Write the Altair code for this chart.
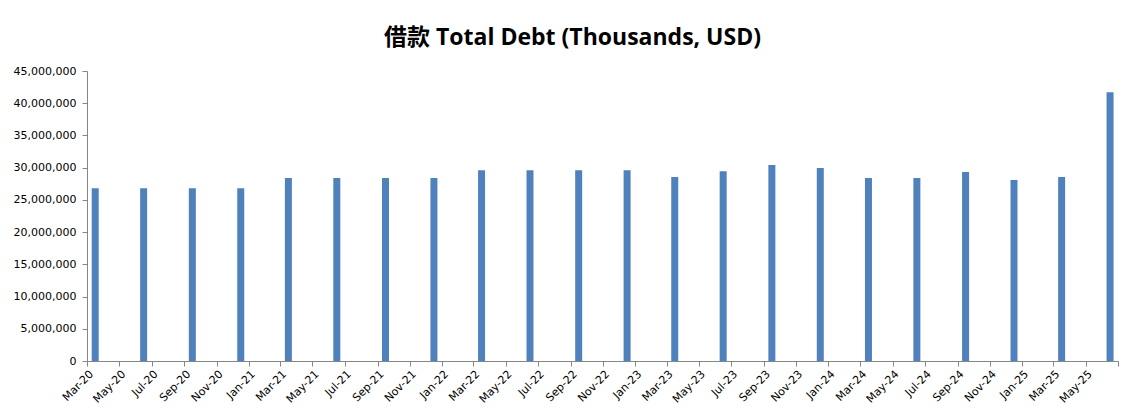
import altair as alt
import pandas as pd

quarters = ["2020-03", "2020-06", "2020-09", "2020-12",
            "2021-03", "2021-06", "2021-09", "2021-12",
            "2022-03", "2022-06", "2022-09", "2022-12",
            "2023-03", "2023-06", "2023-09", "2023-12",
            "2024-03", "2024-06", "2024-09", "2024-12",
            "2025-03", "2025-06"]
total_debt = [26800000, 26800000, 26800000, 26800000,
              28400000, 28400000, 28400000, 28400000,
              29600000, 29600000, 29600000, 29600000,
              28550000, 29450000, 30400000, 29950000,
              28400000, 28400000, 29330000, 28100000,
              28550000, 41700000]
y_ticks = [0, 5000000, 10000000, 15000000, 20000000, 25000000,
           30000000, 35000000, 40000000, 45000000]
x_tick_months = ["2020-03", "2020-05", "2020-07", "2020-09", "2020-11",
                 "2021-01", "2021-03", "2021-05", "2021-07", "2021-09", "2021-11",
                 "2022-01", "2022-03", "2022-05", "2022-07", "2022-09", "2022-11",
                 "2023-01", "2023-03", "2023-05", "2023-07", "2023-09", "2023-11",
                 "2024-01", "2024-03", "2024-05", "2024-07", "2024-09", "2024-11",
                 "2025-01", "2025-03", "2025-05", "2025-07"]

df = pd.DataFrame({"month": quarters, "debt": total_debt})

tick_vals = [alt.DateTime(year=int(m[:4]), month=int(m[5:]), date=1) for m in x_tick_months]

font = "DejaVu Sans"
axis_col = "#868686"

chart = alt.Chart(df).mark_bar(width=7, color="#4F81BD").encode(
    x=alt.X("month:T", timeUnit="yearmonth", bandPosition=0.5,
            scale=alt.Scale(domain=[alt.DateTime(year=2020, month=3, date=1),
                                    alt.DateTime(year=2025, month=7, date=1)]),
            axis=alt.Axis(title=None, values=tick_vals,
                          labelExpr="timeFormat(datum.value, '%b-%y') == 'Jul-25' ? '' : timeFormat(datum.value, '%b-%y')",
                          labelAngle=-45, labelAlign="right", labelBaseline="top",
                          labelFont=font, labelFontSize=11, labelColor="#000000",
                          domainColor=axis_col, tickColor=axis_col, tickSize=5,
                          labelPadding=2, grid=False, labelOverlap=False,
                          labelFlush=False)),
    y=alt.Y("debt:Q",
            scale=alt.Scale(domain=[0, 45000000], nice=False),
            axis=alt.Axis(title=None, values=y_ticks, format=",d",
                          labelFont=font, labelFontSize=11, labelColor="#000000",
                          domainColor=axis_col, tickColor=axis_col, tickSize=5,
                          labelPadding=6, grid=False)),
).properties(
    width=1031,
    height=290,
    autosize=alt.AutoSizeParams(type="none"),
    padding={"left": 79, "top": 63, "right": 10, "bottom": 45},
    title=alt.TitleParams(
        "借款 Total Debt (Thousands, USD)",
        font="Open Sans, Noto Sans CJK SC",
        fontSize=23, fontWeight="bold", color="#000000",
        anchor="middle", dx=-30, offset=15,
    ),
).configure_view(stroke=None)

chart.save("out.html", embed_options={"renderer": "svg", "actions": False})
